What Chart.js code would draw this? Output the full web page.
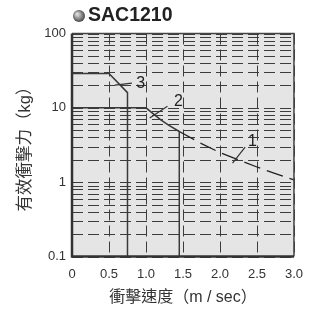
<!DOCTYPE html>
<html>
<head>
<meta charset="utf-8">
<script src="https://cdn.jsdelivr.net/npm/chart.js@4/dist/chart.umd.min.js"></script>
<style>
  html, body { margin: 0; padding: 0; background: #fff; }
  #wrap { position: relative; width: 313px; height: 309px; }
</style>
</head>
<body>
<div id="wrap"><canvas id="chart" width="313" height="309"></canvas></div>
<script>
// --- data ---
const chartTitle = 'SAC1210';
const xTitle = '衝擊速度（m / sec）';
const yTitle = '有效衝擊力（kg）';

const xTicks = [0, 0.5, 1.0, 1.5, 2.0, 2.5, 3.0];
const yTicks = [0.1, 0.2, 0.3, 0.4, 0.5, 0.6, 0.7, 0.8, 0.9,
                1, 2, 3, 4, 5, 6, 7, 8, 9,
                10, 20, 30, 40, 50, 60, 70, 80, 90, 100];
const yLabels = { 0.1: '0.1', 1: '1', 10: '10', 100: '100' };

// curve 3 (solid)
const line3X = [0, 0.5, 0.75, 0.75];
const line3Y = [29, 29, 16, 0.1];
// curve 2 (solid)
const line2X = [0, 1.0, 1.1, 1.2, 1.3, 1.45, 1.45];
const line2Y = [10, 10, 8.3, 6.9, 5.9, 4.8, 0.1];
// curve 1 (dashed)
const line1X = [1.45, 1.75, 2.0, 2.25, 2.5, 2.75, 3.0];
const line1Y = [4.8, 3.3, 2.5, 2.0, 1.6, 1.3, 1.07];

// callout numbers with their leader lines (data coordinates)
const callouts = [
  { text: '3', at: [0.93, 21.5], from: [0.58, 20.2], to: [0.81, 21.5] },
  { text: '2', at: [1.44, 12.3], from: [1.05, 7.3], to: [1.29, 10.5] },
  { text: '1', at: [2.44, 3.56], from: [2.17, 1.8], to: [2.34, 2.96] }
];

const pts = (xs, ys) => xs.map((x, i) => ({ x, y: ys[i] }));

const FONT = "'Liberation Sans', Arial, 'Noto Sans CJK TC', sans-serif";
const CJK = "'Liberation Sans', 'Noto Sans CJK TC', sans-serif";

const decor = {
  id: 'decor',
  beforeDatasetsDraw(chart) {
    const { ctx, chartArea: a, scales } = chart;
    ctx.save();
    ctx.fillStyle = '#e5e5e5';
    ctx.fillRect(a.left, a.top, a.right - a.left, a.bottom - a.top);
    // dashed grid
    ctx.strokeStyle = '#3c3c3c';
    ctx.lineWidth = 1;
    ctx.setLineDash([11, 5]);
    yTicks.forEach(v => {
      const y = Math.round(scales.y.getPixelForValue(v)) + 0.5;
      ctx.beginPath(); ctx.moveTo(a.left, y); ctx.lineTo(a.right, y); ctx.stroke();
    });
    xTicks.forEach(v => {
      const x = Math.round(scales.x.getPixelForValue(v)) + 0.5;
      ctx.beginPath(); ctx.moveTo(x, a.top); ctx.lineTo(x, a.bottom); ctx.stroke();
    });
    ctx.restore();
  },
  afterDraw(chart) {
    const { ctx, chartArea: a, scales } = chart;
    const xs = scales.x, ys = scales.y;
    ctx.save();
    // frame
    ctx.strokeStyle = '#444';
    ctx.lineWidth = 1.5;
    ctx.beginPath();
    ctx.moveTo(a.left, a.top); ctx.lineTo(a.right, a.top); ctx.lineTo(a.right, a.bottom);
    ctx.stroke();
    ctx.strokeStyle = '#333';
    ctx.lineWidth = 2.5;
    ctx.beginPath();
    ctx.moveTo(a.left, a.top); ctx.lineTo(a.left, a.bottom); ctx.lineTo(a.right, a.bottom);
    ctx.stroke();

    // callouts
    ctx.strokeStyle = '#333';
    ctx.lineWidth = 1.2;
    ctx.fillStyle = '#222';
    ctx.font = '16px ' + FONT;
    ctx.textAlign = 'center';
    ctx.textBaseline = 'middle';
    callouts.forEach(c => {
      ctx.beginPath();
      ctx.moveTo(xs.getPixelForValue(c.from[0]), ys.getPixelForValue(c.from[1]));
      ctx.lineTo(xs.getPixelForValue(c.to[0]), ys.getPixelForValue(c.to[1]));
      ctx.stroke();
      ctx.fillText(c.text, xs.getPixelForValue(c.at[0]), ys.getPixelForValue(c.at[1]));
    });

    // title with ball bullet
    const g = ctx.createRadialGradient(77, 14, 1, 79, 16, 7);
    g.addColorStop(0, '#d8d8d8');
    g.addColorStop(0.5, '#888');
    g.addColorStop(1, '#333');
    ctx.fillStyle = g;
    ctx.beginPath();
    ctx.arc(79, 16, 6, 0, Math.PI * 2);
    ctx.fill();
    ctx.fillStyle = '#222';
    ctx.font = 'bold 19.5px ' + FONT;
    ctx.textAlign = 'left';
    ctx.textBaseline = 'alphabetic';
    ctx.fillText(chartTitle, 88, 21);
    ctx.restore();
  }
};

new Chart(document.getElementById('chart'), {
  type: 'scatter',
  data: {
    datasets: [
      { data: pts(line3X, line3Y), showLine: true, borderColor: '#3a3a3a', borderWidth: 1.5, pointRadius: 0 },
      { data: pts(line2X, line2Y), showLine: true, borderColor: '#3a3a3a', borderWidth: 1.5, pointRadius: 0 },
      { data: pts(line1X, line1Y), showLine: true, borderColor: '#222', borderWidth: 1.3, borderDash: [17, 7], pointRadius: 0 }
    ]
  },
  options: {
    responsive: false,
    animation: false,
    events: [],
    layout: { padding: { left: 0, right: 18, top: 33.5, bottom: 0 } },
    plugins: { legend: { display: false }, tooltip: { enabled: false } },
    scales: {
      x: {
        type: 'linear',
        min: 0, max: 3,
        afterBuildTicks: s => { s.ticks = xTicks.map(v => ({ value: v })); },
        afterFit: s => { s.height = 52.5; },
        ticks: {
          autoSkip: false, maxRotation: 0, padding: 10,
          color: '#333', font: { family: FONT, size: 13 },
          callback: v => (v === 0 ? '0' : v.toFixed(1))
        },
        grid: { display: false, drawTicks: false },
        border: { display: false },
        title: { display: true, text: xTitle, color: '#333', font: { family: CJK, size: 16 }, padding: { top: 0, bottom: 2 } }
      },
      y: {
        type: 'logarithmic',
        min: 0.1, max: 100,
        afterBuildTicks: s => { s.ticks = yTicks.map(v => ({ value: v })); },
        afterFit: s => { s.width = 72; },
        ticks: {
          autoSkip: false, padding: 6,
          color: '#333', font: { family: FONT, size: 13 },
          callback: v => (yLabels[v] !== undefined ? yLabels[v] : '')
        },
        grid: { display: false, drawTicks: false },
        border: { display: false },
        title: { display: true, text: yTitle, color: '#333', font: { family: CJK, size: 16.5 }, padding: { top: 16, bottom: 0 } }
      }
    }
  },
  plugins: [decor]
});
</script>
</body>
</html>
